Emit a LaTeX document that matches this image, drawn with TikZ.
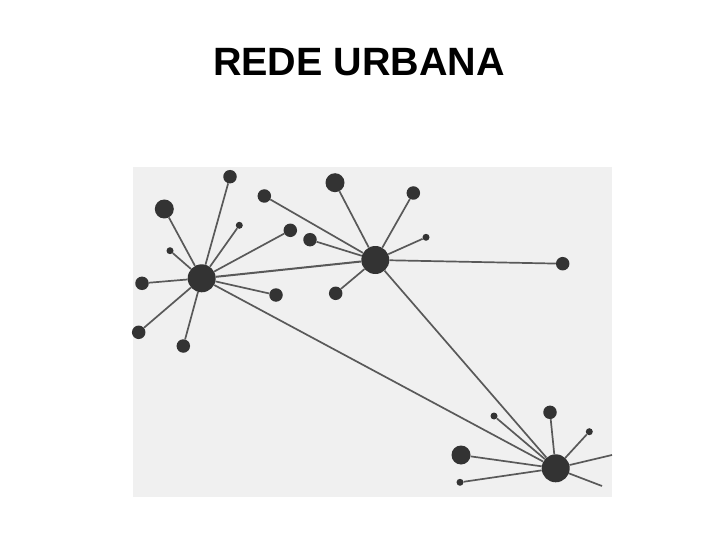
\documentclass[tikz,border=0pt]{standalone}
\usepackage{fontspec}
\setmainfont{Liberation Sans}
\begin{document}
\begin{tikzpicture}[x=1pt,y=-1pt,
  hub/.style={circle,fill=black!80,inner sep=0pt,minimum size=28pt},
  big/.style={circle,fill=black!80,inner sep=0pt,minimum size=19pt},
  mid/.style={circle,fill=black!80,inner sep=0pt,minimum size=13.5pt},
  tiny/.style={circle,fill=black!80,inner sep=0pt,minimum size=7pt},
  link/.style={draw=black!65,line width=1.7pt}]
\useasboundingbox (0,0) rectangle (720,540);
\fill[black!6] (133,167) rectangle (612,497);
\node[font=\bfseries\fontsize{39.5}{44}\selectfont] (title) at (359,62) {REDE URBANA};
% hubs
\node[hub] (A) at (201.7,278.3) {};
\node[hub] (B) at (375.3,260) {};
\node[hub] (C) at (555.7,468.3) {};
% satellites of A
\node[mid] (a1) at (230,176.7) {};
\node[big] (a2) at (164.3,209) {};
\node[tiny] (a3) at (170,250.7) {};
\node[tiny] (a4) at (239.3,225.3) {};
\node[mid] (a5) at (290.3,230.3) {};
\node[mid] (a6) at (142,283.3) {};
\node[mid] (a7) at (138.7,332.3) {};
\node[mid] (a8) at (183.3,346) {};
\node[mid] (a9) at (276,295) {};
% satellites of B
\node[mid] (b1) at (264.3,196) {};
\node[mid] (b2) at (310,239.7) {};
\node[big] (b3) at (335,182.7) {};
\node[mid] (b4) at (335.7,293.3) {};
\node[mid] (b5) at (413.3,193) {};
\node[tiny] (b6) at (426,237.3) {};
\node[mid] (b7) at (562.7,263.7) {};
% satellites of C
\node[mid] (c1) at (550,412.3) {};
\node[tiny] (c2) at (589.3,431.7) {};
\node[tiny] (c3) at (494,416) {};
\node[big] (c4) at (461,455) {};
\node[tiny] (c5) at (460,482.3) {};
\coordinate (c6) at (612,455);
\coordinate (c7) at (602,486);
\foreach \s in {a1,a2,a3,a4,a5,a6,a7,a8,a9} \draw[link] (A) -- (\s);
\foreach \s in {b1,b2,b3,b4,b5,b6,b7} \draw[link] (B) -- (\s);
\foreach \s in {c1,c2,c3,c4,c5} \draw[link] (C) -- (\s);
\draw[link] (C) -- (c6);
\draw[link] (C) -- (c7);
\draw[link,line width=2pt] (A) -- (B);
\draw[link] (A) -- (C);
\draw[link] (B) -- (C);
\end{tikzpicture}
\end{document}
